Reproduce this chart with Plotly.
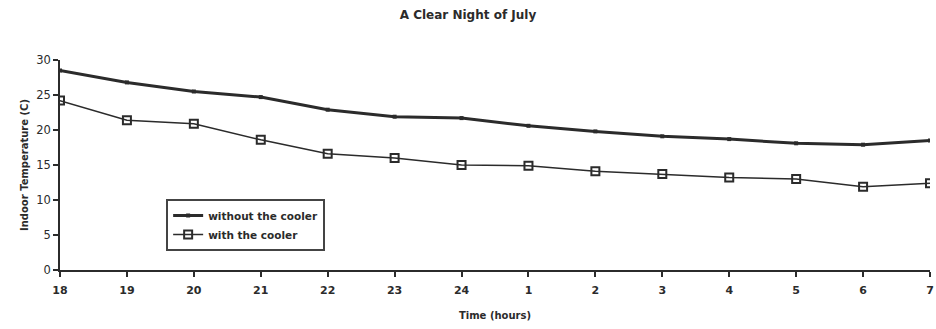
import plotly.graph_objects as go

hours = ["18", "19", "20", "21", "22", "23", "24", "1", "2", "3", "4", "5", "6", "7"]
without_cooler = [28.5, 26.8, 25.5, 24.7, 22.9, 21.9, 21.7, 20.6, 19.8, 19.1, 18.7, 18.1, 17.9, 18.5]
with_cooler = [24.2, 21.4, 20.9, 18.6, 16.6, 16.0, 15.0, 14.9, 14.1, 13.7, 13.2, 13.0, 11.9, 12.4]
y_ticks = [0, 5, 10, 15, 20, 25, 30]

FONT = "'DejaVu Sans', sans-serif"
INK = "#2b2b2b"

fig = go.Figure()
fig.add_trace(go.Scatter(
    x=hours, y=without_cooler, name="without the cooler",
    mode="lines+markers",
    line=dict(color=INK, width=3),
    marker=dict(symbol="square", size=4, color=INK),
))
fig.add_trace(go.Scatter(
    x=hours, y=with_cooler, name="with the cooler",
    mode="lines+markers",
    line=dict(color=INK, width=1.5),
    marker=dict(symbol="square-open", size=8, color=INK, line=dict(width=2)),
))

fig.update_layout(
    width=936, height=329,
    margin=dict(l=60, r=2, t=60, b=59),
    paper_bgcolor="white", plot_bgcolor="white",
    font=dict(family=FONT, color=INK, size=11),
    title=dict(text="A Clear Night of July", x=0.5, xanchor="center",
               y=0.955, yanchor="middle",
               font=dict(size=12, family=FONT, color=INK, weight="bold")),
    showlegend=True,
    legend=dict(x=0.122, y=0.338, xanchor="left", yanchor="top",
                bordercolor="#444", borderwidth=2, bgcolor="white",
                font=dict(size=10.5, family=FONT, color=INK, weight="bold"),
                tracegroupgap=0, itemwidth=30),
)
fig.update_xaxes(
    type="category", range=[0, 13],
    showline=True, linecolor=INK, linewidth=2,
    showgrid=False, zeroline=False,
    ticks="outside", ticklen=5, tickcolor=INK, tickwidth=1.5,
    ticklabelstandoff=4,
    tickfont=dict(size=11, family=FONT, color=INK, weight="bold"),
    title=dict(text="Time (hours)", font=dict(size=10, family=FONT, color=INK, weight="bold"), standoff=16),
)
fig.update_yaxes(
    range=[0, 30], tickvals=y_ticks,
    showline=True, linecolor=INK, linewidth=1.5,
    showgrid=False, zeroline=False,
    ticks="outside", ticklen=5, tickcolor=INK, tickwidth=1.5,
    tickfont=dict(size=11.5, family=FONT, color=INK),
    title=dict(text="Indoor Temperature (C)", font=dict(size=10, family=FONT, color=INK, weight="bold"), standoff=6),
)

fig.write_html("out.html")
